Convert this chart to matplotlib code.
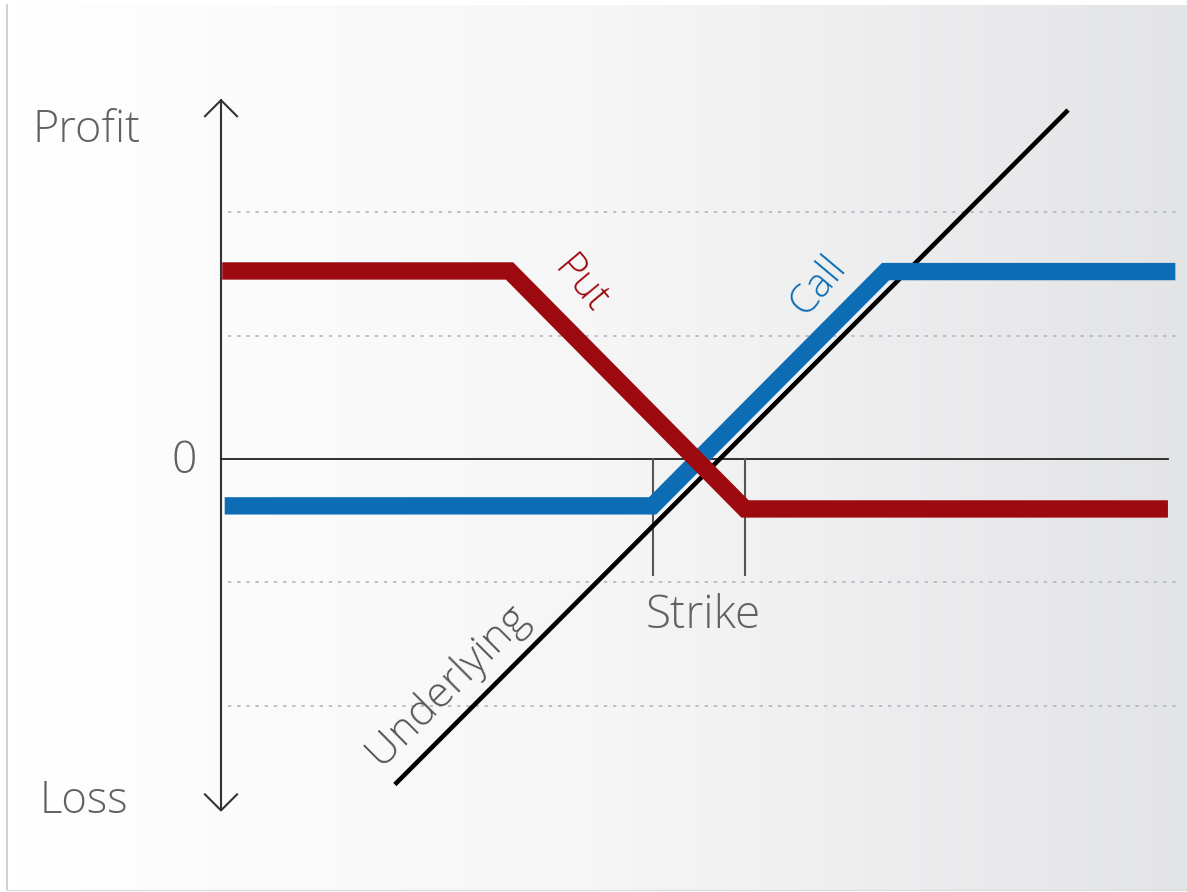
import numpy as np
import matplotlib.pyplot as plt
from matplotlib.colors import LinearSegmentedColormap

plt.rcParams['font.family'] = ['Open Sans', 'DejaVu Sans']
plt.rcParams['font.weight'] = 'light'

# payoff diagram values, in units of one grid step
underlying_x = [1.41, 6.87]
underlying_y = [-2.64, 2.83]
call_x = [0.03, 3.50, 5.39, 7.74]
call_y = [-0.38, -0.38, 1.52, 1.52]
put_x = [0.01, 2.34, 4.25, 7.68]
put_y = [1.525, 1.525, -0.405, -0.405]
strikes = [3.50, 4.25]
strike_depth = -0.94
grid_levels = [2, 1, -1, -2]

red = '#9c0a10'
blue = '#0c6db5'
grey_txt = '#626262'

unit = 123.3  # pixels per grid step
fig = plt.figure(figsize=(11.87, 8.92), dpi=100)
ax = fig.add_axes([0, 0, 1, 1])
ax.axis('off')

# soft left-to-right background gradient with a thin frame line
cmap = LinearSegmentedColormap.from_list('bg', ['#ffffff', '#f6f6f6', '#e3e4e6'])
grad = np.linspace(0, 1, 256).reshape(1, -1)
ax.imshow(grad, cmap=cmap, aspect='auto', extent=(8/1187, 1, 2/892, 887/892),
          transform=ax.transAxes, zorder=0, interpolation='bilinear')
ax.plot([7/1187, 7/1187], [2/892, 887/892], transform=ax.transAxes, color='#c8c8c8', lw=1.2, zorder=1)
ax.plot([7/1187, 1], [2/892, 2/892], transform=ax.transAxes, color='#dddddd', lw=1, zorder=1)

ax.set_xlim(-221/unit, (1187-221)/unit)
ax.set_ylim((459-892)/unit, 459/unit)

# dotted guide levels
for g in grid_levels:
    ax.plot([0.06, 7.78], [g, g], color='#b4b4c4', lw=1.2, ls=(0, (2, 3.5)), zorder=2)

# profit/loss axis with open arrow heads
top, bottom, head = 2.91, -2.85, 0.13
ax.plot([0, 0], [bottom, top], color='#333333', lw=1.5, zorder=3)
ax.plot([-head, 0, head], [top-head, top, top-head], color='#333333', lw=1.5, zorder=3)
ax.plot([-head, 0, head], [bottom+head, bottom, bottom+head], color='#333333', lw=1.5, zorder=3)
ax.plot([0, 7.68], [0, 0], color='#222222', lw=1.3, zorder=3)

for s in strikes:
    ax.plot([s, s], [0, strike_depth], color='#555555', lw=1.5, zorder=3)

ax.plot(underlying_x, underlying_y, color='black', lw=3.3, solid_capstyle='butt', zorder=4)
ax.plot(call_x, call_y, color=blue, lw=12.5, solid_capstyle='butt', solid_joinstyle='miter', zorder=5)
ax.plot(put_x, put_y, color=red, lw=12.5, solid_capstyle='butt', solid_joinstyle='miter', zorder=6)

ax.text(-1.525, 2.571, 'Profit', fontsize=32.5, color=grey_txt, ha='left', va='baseline')
ax.text(-1.468, -2.871, 'Loss', fontsize=31.5, color=grey_txt, ha='left', va='baseline')
ax.text(-0.30, -0.114, '0', fontsize=32, color=grey_txt, ha='center', va='baseline')
ax.text(3.439, -1.371, 'Strike', fontsize=33, color=grey_txt, ha='left', va='baseline')
ax.text(1.833, -1.833, 'Underlying', fontsize=31, color='#565656', ha='center', va='center',
        rotation=45, rotation_mode='anchor')
ax.text(2.912, 1.411, 'Put', fontsize=29, color=red, ha='center', va='center',
        rotation=-50, rotation_mode='anchor')
ax.text(4.842, 1.411, 'Call', fontsize=29, color=blue, ha='center', va='center',
        rotation=50, rotation_mode='anchor')

fig.savefig('out.png', dpi=100)
